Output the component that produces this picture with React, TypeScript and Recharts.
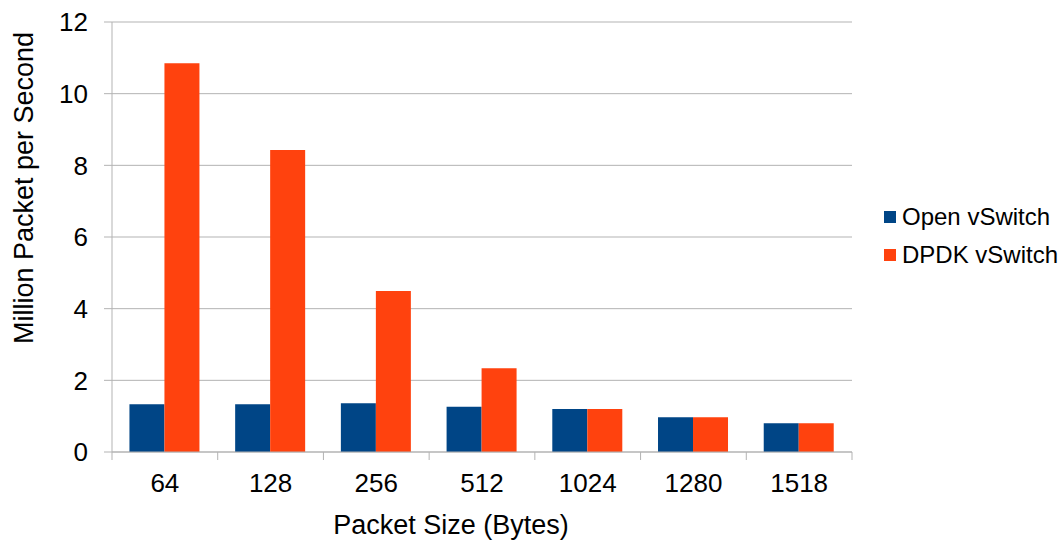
import React from "react";
import { BarChart, Bar, XAxis, YAxis, CartesianGrid, Label } from "recharts";

const categories = ["64", "128", "256", "512", "1024", "1280", "1518"];
const openVSwitch = [1.33, 1.33, 1.36, 1.26, 1.2, 0.97, 0.8];
const dpdkVSwitch = [10.85, 8.43, 4.49, 2.34, 1.2, 0.97, 0.8];
const yTicks = [0, 2, 4, 6, 8, 10, 12];
const seriesNames = ["Open vSwitch", "DPDK vSwitch"];
const colors = ["#004586", "#ff420e"];

const data = categories.map((c, i) => ({ size: c, ovs: openVSwitch[i], dpdk: dpdkVSwitch[i] }));

const FONT = "'Liberation Sans', Arial, sans-serif";
const GRID = "#b3b3b3";

const XTick = (props: any) => {
  const { x, y, payload, index, visibleTicksCount, width } = props;
  const half = payload && payload.offset ? payload.offset : width / visibleTicksCount / 2;
  const axisY = y - 22;
  return (
    <g>
      <line x1={x - half} x2={x - half} y1={axisY} y2={axisY + 8} stroke={GRID} strokeWidth={1} />
      {index === visibleTicksCount - 1 && (
        <line x1={x + half} x2={x + half} y1={axisY} y2={axisY + 8} stroke={GRID} strokeWidth={1} />
      )}
      <text x={x} y={y} dy="0.71em" textAnchor="middle" fill="#000" fontSize={26} fontFamily={FONT}>
        {payload.value}
      </text>
    </g>
  );
};

const LegendBox = () => (
  <div
    style={{
      position: "absolute",
      left: 884,
      top: 198,
      fontFamily: FONT,
      fontSize: 24,
      color: "#000",
      lineHeight: "38px",
    }}
  >
    {seriesNames.map((n, i) => (
      <div key={n} style={{ display: "flex", alignItems: "center", whiteSpace: "nowrap" }}>
        <span style={{ display: "inline-block", width: 12, height: 12, background: colors[i], marginRight: 6 }} />
        <span>{n}</span>
      </div>
    ))}
  </div>
);

export default function App() {
  return (
    <div style={{ position: "absolute", left: 0, top: 0, width: 1064, height: 548, background: "#fff" }}>
      <BarChart
        width={1064}
        height={548}
        data={data}
        margin={{ top: 22, right: 212, bottom: 0, left: 0 }}
        barCategoryGap="16.5%"
        barGap={0}
        style={{ fontFamily: FONT }}
      >
        <CartesianGrid vertical={false} stroke={GRID} strokeWidth={1} />
        <XAxis
          dataKey="size"
          height={96}
          tickSize={0}
          tickMargin={22}
          tickLine={false}
          axisLine={{ stroke: GRID }}
          tick={<XTick />}
          interval={0}
        >
          <Label
            content={(p: any) => {
              const vb = p.viewBox || {};
              return (
                <text x={vb.x + vb.width / 2 - 31} y={vb.y + 82} textAnchor="middle" fill="#000" fontSize={27} fontFamily={FONT}>
                  Packet Size (Bytes)
                </text>
              );
            }}
          />
        </XAxis>
        <YAxis
          domain={[0, 12]}
          ticks={yTicks}
          width={112}
          tickSize={8}
          tickMargin={16}
          tickLine={{ stroke: GRID }}
          axisLine={{ stroke: GRID }}
          tick={{ fill: "#000", fontSize: 26, fontFamily: FONT }}
          interval={0}
        >
          <Label
            content={(p: any) => {
              const vb = p.viewBox || {};
              const cx = vb.x + 23;
              const cy = vb.y + vb.height / 2 - 49;
              return (
                <text
                  x={cx}
                  y={cy}
                  transform={`rotate(-90 ${cx} ${cy})`}
                  textAnchor="middle"
                  dy="0.355em"
                  fill="#000"
                  fontSize={27}
                  fontFamily={FONT}
                >
                  Million Packet per Second
                </text>
              );
            }}
          />
        </YAxis>
        <YAxis
          yAxisId="r"
          orientation="right"
          domain={[0, 12]}
          width={0}
          tick={false}
          tickLine={false}
          axisLine={{ stroke: GRID }}
        />
        <Bar dataKey="ovs" name={seriesNames[0]} fill={colors[0]} isAnimationActive={false} />
        <Bar dataKey="dpdk" name={seriesNames[1]} fill={colors[1]} isAnimationActive={false} />
      </BarChart>
      <LegendBox />
    </div>
  );
}
